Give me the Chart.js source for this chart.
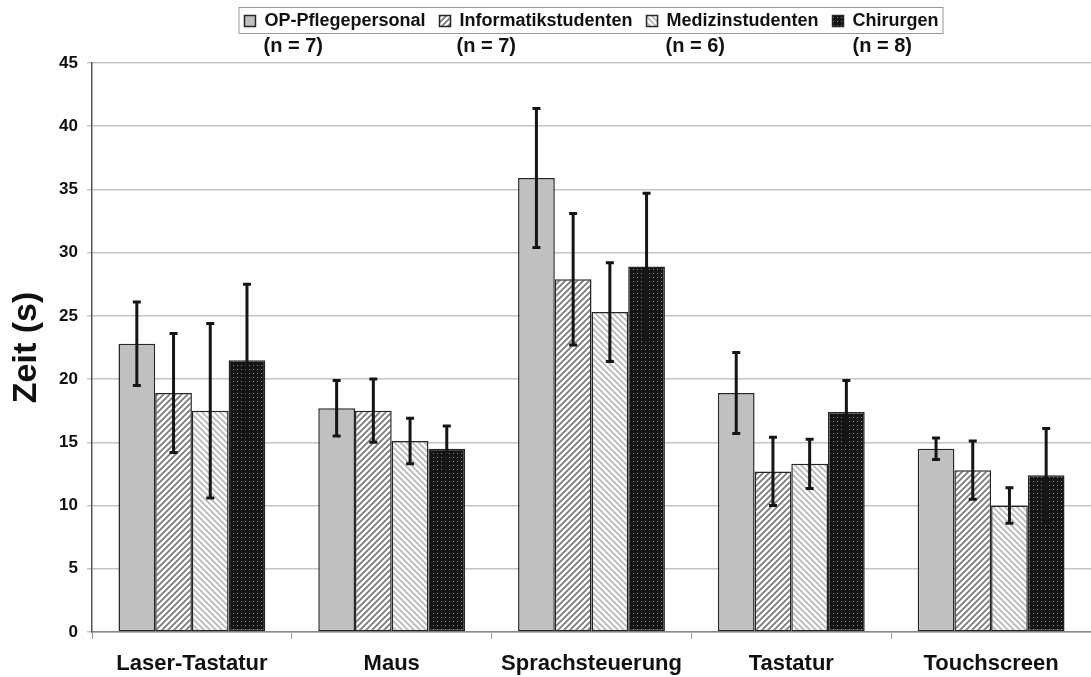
<!DOCTYPE html>
<html>
<head>
<meta charset="utf-8">
<script src="https://cdn.jsdelivr.net/npm/chart.js@4.4.1/dist/chart.umd.min.js"></script>
<style>
  html, body { margin: 0; padding: 0; background: #fff; }
  #wrap { width: 1091px; height: 677px; }
</style>
</head>
<body>
<div id="wrap"><canvas id="chart"></canvas></div>
<script>
const categories = ['Laser-Tastatur', 'Maus', 'Sprachsteuerung', 'Tastatur', 'Touchscreen'];
const groupNames = ['OP-Pflegepersonal', 'Informatikstudenten', 'Medizinstudenten', 'Chirurgen'];
const groupN = ['(n = 7)', '(n = 7)', '(n = 6)', '(n = 8)'];

const opMean = [22.8, 17.7, 35.9, 18.9, 14.5];
const opErr = [3.3, 2.2, 5.5, 3.2, 0.85];
const infoMean = [18.9, 17.5, 27.9, 12.7, 12.8];
const infoErr = [4.7, 2.5, 5.2, 2.7, 2.3];
const medMean = [17.5, 15.1, 25.3, 13.3, 10.0];
const medErr = [6.9, 1.8, 3.9, 1.95, 1.4];
const chirMean = [21.5, 14.5, 28.9, 17.4, 12.4];
const chirErr = [6.0, 1.8, 5.8, 2.5, 3.7];

const yTicks = [0, 5, 10, 15, 20, 25, 30, 35, 40, 45];

const FONT = '"Liberation Sans", Arial, sans-serif';

// pattern fills like the old excel chart
function makePattern(kind) {
  const c = document.createElement('canvas');
  const ctx = c.getContext('2d');
  if (kind === 'fwd' || kind === 'back') {
    c.width = 6; c.height = 6;
    ctx.fillStyle = '#fff';
    ctx.fillRect(0, 0, 6, 6);
    ctx.strokeStyle = kind === 'fwd' ? '#7a7a7a' : '#b8b8b8';
    ctx.lineWidth = 1.8;
    ctx.beginPath();
    if (kind === 'fwd') {
      ctx.moveTo(-1, 7); ctx.lineTo(7, -1);
      ctx.moveTo(-4, 4); ctx.lineTo(4, -4);
      ctx.moveTo(2, 10); ctx.lineTo(10, 2);
    } else {
      ctx.moveTo(-1, -1); ctx.lineTo(7, 7);
      ctx.moveTo(-4, 2); ctx.lineTo(4, 10);
      ctx.moveTo(2, -4); ctx.lineTo(10, 4);
    }
    ctx.stroke();
  } else {
    c.width = 4; c.height = 4;
    ctx.fillStyle = '#141414';
    ctx.fillRect(0, 0, 4, 4);
    ctx.fillStyle = '#8a8a8a';
    ctx.fillRect(1, 1, 1, 1);
  }
  return document.getElementById('chart').getContext('2d').createPattern(c, 'repeat');
}

const errors = [opErr, infoErr, medErr, chirErr];

const errorBars = {
  id: 'errorBars',
  afterDatasetsDraw(chart) {
    const ctx = chart.ctx;
    const y = chart.scales.y;
    ctx.save();
    ctx.strokeStyle = '#151515';
    ctx.lineWidth = 3;
    chart.data.datasets.forEach((ds, i) => {
      const meta = chart.getDatasetMeta(i);
      meta.data.forEach((bar, j) => {
        const v = ds.data[j], e = errors[i][j];
        const top = y.getPixelForValue(v + e);
        const bot = y.getPixelForValue(v - e);
        ctx.beginPath();
        ctx.moveTo(bar.x, top); ctx.lineTo(bar.x, bot);
        ctx.moveTo(bar.x - 4, top); ctx.lineTo(bar.x + 4, top);
        ctx.moveTo(bar.x - 4, bot); ctx.lineTo(bar.x + 4, bot);
        ctx.stroke();
      });
    });
    ctx.restore();
  }
};

// frame around the legend + the group sizes under it
const legendExtras = {
  id: 'legendExtras',
  afterDraw(chart) {
    const boxes = chart.legend.legendHitBoxes;
    if (!boxes || !boxes.length) return;
    const ctx = chart.ctx;
    const left = boxes[0].left - 6;
    const last = boxes[boxes.length - 1];
    const right = last.left + last.width + 4;
    const top = boxes[0].top - 5;
    const bottom = boxes[0].top + boxes[0].height + 3;
    ctx.save();
    ctx.strokeStyle = '#999';
    ctx.lineWidth = 1;
    ctx.strokeRect(left + 0.5, top + 0.5, right - left, bottom - top);
    ctx.fillStyle = '#111';
    ctx.font = 'bold 20px ' + FONT;
    ctx.textBaseline = 'top';
    const offs = [19, 17, 19, 20];
    boxes.forEach((b, i) => {
      ctx.fillText(groupN[i], b.left + offs[i], bottom + 3);
    });
    ctx.restore();
  }
};

const border = '#262626';
const datasets = [
  { label: groupNames[0], data: opMean, backgroundColor: '#c0c0c0' },
  { label: groupNames[1], data: infoMean, backgroundColor: makePattern('fwd') },
  { label: groupNames[2], data: medMean, backgroundColor: makePattern('back') },
  { label: groupNames[3], data: chirMean, backgroundColor: makePattern('dots') }
].map(d => Object.assign(d, { borderColor: border, borderWidth: 1.5, borderSkipped: false,
  barPercentage: 1.0, categoryPercentage: 0.735 }));

new Chart(document.getElementById('chart'), {
  type: 'bar',
  data: { labels: categories, datasets: datasets },
  options: {
    responsive: true,
    maintainAspectRatio: false,
    animation: false,
    layout: { padding: { top: -2, left: 0, right: 0, bottom: 0 } },
    plugins: {
      legend: {
        position: 'top',
        fullSize: false,
        labels: {
          color: '#111',
          font: { family: FONT, size: 18, weight: 'bold' },
          boxWidth: 11, boxHeight: 11, padding: 14
        }
      },
      title: {
        display: true, text: ' ', weight: 500,
        font: { size: 10 }, padding: { top: 0, bottom: 11 }
      },
      tooltip: { enabled: false }
    },
    scales: {
      x: {
        afterFit(scale) { scale.height = 45; },
        grid: { display: true, drawOnChartArea: false, drawTicks: true, tickLength: 7, color: '#999', offset: true },
        border: { color: '#888', width: 1.5 },
        ticks: {
          color: '#111', padding: 12,
          font: { family: FONT, size: 22, weight: 'bold' }
        }
      },
      y: {
        min: 0, max: 45,
        afterFit(scale) { scale.width = 92; },
        afterBuildTicks(axis) { axis.ticks = yTicks.map(v => ({ value: v })); },
        grid: { color: '#c4c4c4', lineWidth: 1.5, drawTicks: true, tickLength: 5 },
        border: { color: '#555', width: 1.5 },
        ticks: {
          color: '#111', padding: 9,
          font: { family: FONT, size: 17, weight: 'bold' }
        },
        title: {
          display: true, text: 'Zeit (s)', color: '#111',
          font: { family: FONT, size: 34, weight: 'bold' },
          padding: { top: 6, bottom: 0 }
        }
      }
    }
  },
  plugins: [errorBars, legendExtras]
});
</script>
</body>
</html>
